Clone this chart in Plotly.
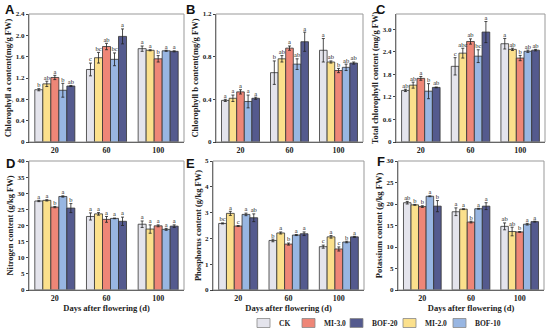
import plotly.graph_objects as go
import numpy as np

days = ["20", "60", "100"]
treatments = ["CK", "MI-2.0", "MI-3.0", "BOF-10", "BOF-20"]
colors = ["#e4e4ec", "#fbe08c", "#ee8677", "#98b6e2", "#545a8e"]
legend_order = ["CK", "MI-3.0", "BOF-20", "MI-2.0", "BOF-10"]

# values[treatment] = [day20, day60, day100]
chl_a = {"CK": [0.98, 1.36, 1.75], "MI-2.0": [1.09, 1.58, 1.72], "MI-3.0": [1.21, 1.79, 1.56],
         "BOF-10": [0.97, 1.55, 1.71], "BOF-20": [1.05, 1.98, 1.70]}
chl_a_err = {"CK": [0.02, 0.12, 0.05], "MI-2.0": [0.05, 0.10, 0.01], "MI-3.0": [0.04, 0.06, 0.06],
             "BOF-10": [0.13, 0.12, 0.01], "BOF-20": [0.01, 0.14, 0.01]}
chl_a_sig = {"CK": ["b", "c", "a"], "MI-2.0": ["ab", "bc", "a"], "MI-3.0": ["a", "ab", "b"],
             "BOF-10": ["b", "bc", "a"], "BOF-20": ["ab", "a", "a"]}

chl_b = {"CK": [0.39, 0.65, 0.86], "MI-2.0": [0.41, 0.78, 0.75], "MI-3.0": [0.47, 0.88, 0.67],
         "BOF-10": [0.38, 0.73, 0.70], "BOF-20": [0.41, 0.94, 0.74]}
chl_b_err = {"CK": [0.01, 0.11, 0.11], "MI-2.0": [0.03, 0.03, 0.01], "MI-3.0": [0.02, 0.02, 0.02],
             "BOF-10": [0.06, 0.05, 0.03], "BOF-20": [0.01, 0.09, 0.01]}
chl_b_sig = {"CK": ["a", "b", "a"], "MI-2.0": ["a", "ab", "ab"], "MI-3.0": ["a", "a", "b"],
             "BOF-10": ["a", "ab", "ab"], "BOF-20": ["a", "a", "ab"]}

chl_t = {"CK": [1.37, 2.01, 2.61], "MI-2.0": [1.51, 2.36, 2.46], "MI-3.0": [1.69, 2.67, 2.23],
         "BOF-10": [1.35, 2.28, 2.41], "BOF-20": [1.45, 2.92, 2.44]}
chl_t_err = {"CK": [0.03, 0.23, 0.14], "MI-2.0": [0.08, 0.13, 0.03], "MI-3.0": [0.05, 0.07, 0.07],
             "BOF-10": [0.20, 0.17, 0.03], "BOF-20": [0.01, 0.28, 0.02]}
chl_t_sig = {"CK": ["ab", "c", "a"], "MI-2.0": ["ab", "abc", "ab"], "MI-3.0": ["a", "ab", "b"],
             "BOF-10": ["b", "bc", "ab"], "BOF-20": ["ab", "a", "ab"]}

nit = {"CK": [27.6, 22.8, 20.4], "MI-2.0": [27.8, 23.6, 18.9], "MI-3.0": [25.7, 21.9, 19.9],
       "BOF-10": [29.0, 22.2, 18.8], "BOF-20": [25.4, 21.3, 19.8]}
nit_err = {"CK": [0.2, 1.1, 1.0], "MI-2.0": [0.2, 0.4, 1.3], "MI-3.0": [0.2, 0.9, 0.3],
           "BOF-10": [0.2, 0.1, 0.3], "BOF-20": [1.4, 1.3, 0.4]}
nit_sig = {"CK": ["a", "a", "a"], "MI-2.0": ["a", "a", "a"], "MI-3.0": ["b", "a", "a"],
           "BOF-10": ["a", "a", "a"], "BOF-20": ["b", "a", "a"]}

pho = {"CK": [2.58, 1.92, 1.68], "MI-2.0": [2.97, 2.21, 2.06], "MI-3.0": [2.48, 1.78, 1.59],
       "BOF-10": [2.93, 2.13, 1.86], "BOF-20": [2.80, 2.18, 2.06]}
pho_err = {"CK": [0.02, 0.05, 0.06], "MI-2.0": [0.08, 0.04, 0.05], "MI-3.0": [0.02, 0.04, 0.08],
           "BOF-10": [0.05, 0.02, 0.03], "BOF-20": [0.15, 0.07, 0.02]}
pho_sig = {"CK": ["bc", "b", "c"], "MI-2.0": ["a", "a", "a"], "MI-3.0": ["c", "b", "c"],
           "BOF-10": ["a", "a", "b"], "BOF-20": ["ab", "a", "a"]}

pot = {"CK": [20.3, 18.2, 14.8], "MI-2.0": [19.8, 18.8, 13.6], "MI-3.0": [19.4, 15.8, 13.5],
       "BOF-10": [21.8, 18.9, 15.3], "BOF-20": [19.5, 19.5, 15.9]}
pot_err = {"CK": [0.3, 0.9, 0.8], "MI-2.0": [0.1, 0.1, 1.0], "MI-3.0": [0.2, 0.2, 0.1],
           "BOF-10": [0.1, 0.1, 0.2], "BOF-20": [1.3, 0.8, 0.1]}
pot_sig = {"CK": ["ab", "a", "ab"], "MI-2.0": ["b", "a", "ab"], "MI-3.0": ["b", "b", "b"],
           "BOF-10": ["a", "a", "a"], "BOF-20": ["b", "a", "a"]}

panels = [
    dict(letter="A", lpos=(4, 9), vals=chl_a, err=chl_a_err, sig=chl_a_sig,
         title="Chlorophyll a content(mg/g FW)",
         yr=[0, 2.4], dt=0.4, fmt=".1f", dom_x=[29, 184], dom_y=[14, 142], bottom=False),
    dict(letter="B", lpos=(185, 9), vals=chl_b, err=chl_b_err, sig=chl_b_sig,
         title="Chlorophyll b content(mg/g FW)",
         yr=[0, 1.2], dt=0.4, fmt=".1f", dom_x=[216, 363], dom_y=[14, 142], bottom=False),
    dict(letter="C", lpos=(375, 9), vals=chl_t, err=chl_t_err, sig=chl_t_sig,
         title="Total chlorophyll content (mg/g FW)",
         yr=[0, 3.4], dt=0.6, fmt=".1f", dom_x=[396, 545], dom_y=[14, 142], bottom=False),
    dict(letter="D", lpos=(5, 163), vals=nit, err=nit_err, sig=nit_sig,
         title="Nitrogen content (g/kg FW)",
         yr=[0, 40], dt=5, fmt="d", dom_x=[29, 184], dom_y=[161, 290], bottom=True),
    dict(letter="E", lpos=(185, 163), vals=pho, err=pho_err, sig=pho_sig,
         title="Phosphorus content (g/kg FW)",
         yr=[0, 5], dt=1, fmt="d", dom_x=[213, 364], dom_y=[161, 290], bottom=True),
    dict(letter="F", lpos=(376, 162), vals=pot, err=pot_err, sig=pot_sig,
         title="Potassium content (g/kg FW)",
         yr=[0, 30], dt=5, fmt="d", dom_x=[398, 544], dom_y=[161, 290], bottom=True),
]

W, H = 550, 334
SERIF = "Liberation Serif"
fig = go.Figure()
bw = 0.155
xc = np.arange(len(days))
shapes = []
annotations = []
layout_axes = {}

for k, p in enumerate(panels):
    n = k + 1
    xa = "x" if n == 1 else f"x{n}"
    ya = "y" if n == 1 else f"y{n}"
    for i, t in enumerate(treatments):
        xs = xc + (i - 2) * bw
        v = np.array(p["vals"][t])
        e = np.array(p["err"][t])
        fig.add_trace(go.Bar(
            x=xs, y=v, width=bw, xaxis=xa, yaxis=ya,
            marker=dict(color=colors[i], line=dict(color="#333333", width=0.8)),
            error_y=dict(type="data", array=e, color="#222222", thickness=0.8, width=1.5),
            name=t, showlegend=False, hoverinfo="skip"))
        fig.add_trace(go.Scatter(
            x=xs, y=v + e, xaxis=xa, yaxis=ya, mode="text", text=p["sig"][t],
            textposition="top center", textfont=dict(family=SERIF, size=6.5, color="#222"),
            showlegend=False, hoverinfo="skip", cliponaxis=False))
    x0, x1 = p["dom_x"]
    t0, t1 = p["dom_y"]
    dx = [x0 / W, x1 / W]
    dy = [1 - t1 / H, 1 - t0 / H]
    ticks = list(np.round(np.arange(p["yr"][0], p["yr"][1] + 1e-9, p["dt"]), 3))
    tt = [("0" if tv == 0 else (f"{tv:.1f}" if p["fmt"] == ".1f" else f"{int(tv)}")) for tv in ticks]
    xk = "xaxis" if n == 1 else f"xaxis{n}"
    yk = "yaxis" if n == 1 else f"yaxis{n}"
    layout_axes[xk] = dict(domain=dx, anchor=ya, range=[-0.5, 2.5], tickvals=list(xc),
                           ticktext=[f"<b>{d}</b>" for d in days],
                           showline=True, linecolor="#333", linewidth=1, ticks="", showgrid=False,
                           zeroline=False, tickfont=dict(family=SERIF, size=8, color="#222"),
                           automargin=False,
                           title=dict(text="<b>Days after flowering (d)</b>" if p["bottom"] else "",
                                      font=dict(family=SERIF, size=8.5, color="#222"), standoff=0))
    layout_axes[yk] = dict(domain=dy, anchor=xa, range=p["yr"], tickvals=ticks,
                           ticktext=[f"<b>{s}</b>" for s in tt],
                           showline=True, linecolor="#444", linewidth=1, ticks="outside", ticklen=2,
                           tickcolor="#444", showgrid=False, zeroline=False, automargin=False,
                           tickfont=dict(family=SERIF, size=7, color="#222"),
                           title=dict(text=f"<b>{p['title']}</b>", font=dict(family=SERIF, size=8.5, color="#222"),
                                      standoff=2))
    shapes.append(dict(type="rect", xref="paper", yref="paper", x0=dx[0], x1=dx[1], y0=dy[0], y1=dy[1],
                       line=dict(color="#999", width=1), layer="above"))
    lx, ly = p["lpos"]
    annotations.append(dict(text=f"<b>{p['letter']}</b>", xref="paper", yref="paper",
                            x=lx / W, y=1 - ly / H, xanchor="left", yanchor="middle",
                            showarrow=False, borderpad=0,
                            font=dict(family="Liberation Sans", size=13, color="#111")))

# manual legend row
leg_x = [257, 302, 350, 403, 453]
leg_y = 323
for t, lx in zip(legend_order, leg_x):
    i = treatments.index(t)
    shapes.append(dict(type="rect", xref="paper", yref="paper",
                       x0=lx / W, x1=(lx + 13) / W, y0=1 - (leg_y + 4.5) / H, y1=1 - (leg_y - 4.5) / H,
                       fillcolor=colors[i], line=dict(color="#888", width=0.8)))
    annotations.append(dict(text=f"<b>{t}</b>", xref="paper", yref="paper", x=(lx + 20) / W,
                            y=1 - leg_y / H, xanchor="left", yanchor="middle", showarrow=False,
                            font=dict(family=SERIF, size=7.5, color="#222")))

fig.update_layout(
    width=W, height=H, margin=dict(l=0, r=0, t=0, b=0),
    plot_bgcolor="white", paper_bgcolor="white",
    barmode="overlay", showlegend=False,
    shapes=shapes, annotations=annotations, **layout_axes)

fig.write_html("out.html", config={"displayModeBar": False},
               post_script="document.body.style.margin='0px';")
